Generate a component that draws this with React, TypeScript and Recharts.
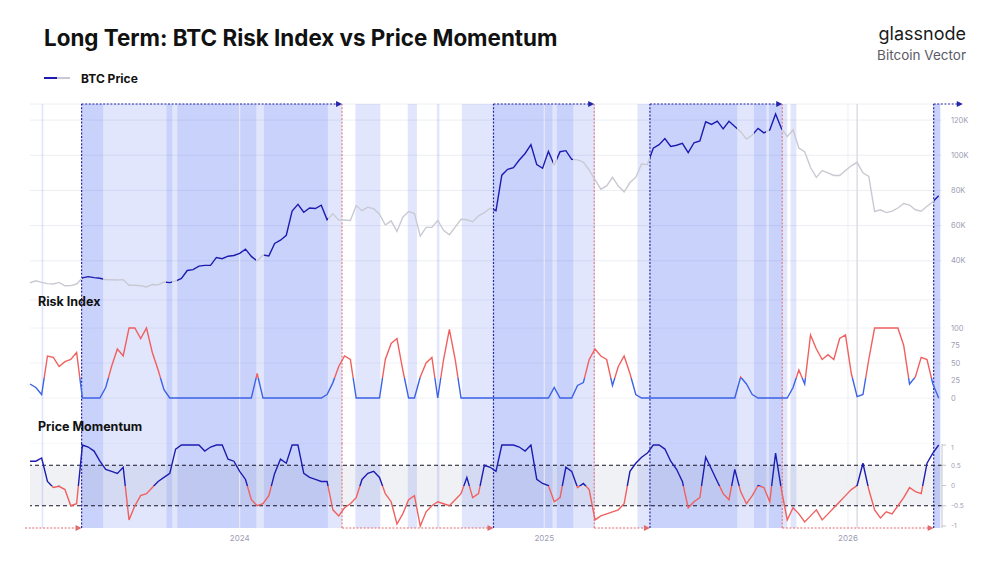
import React from 'react';
import {
  ComposedChart,
  Line,
  XAxis,
  YAxis,
  CartesianGrid,
  ReferenceArea,
  ReferenceLine,
} from 'recharts';

// weekly samples, first one is this Monday
const FIRST_WEEK = '2023-04-24';
const X_DOMAIN = ['2023-04-24', '2026-04-24'];
const YEAR_TICKS = ['2024-01-01', '2025-01-01', '2026-01-01'];

// BTC price, thousands of USD
const btcPrice = [
  27.5, 28.6, 27.7, 27.0, 26.8, 27.7, 25.8, 25.9, 26.8, 30.3,
  31.0, 30.4, 30.1, 29.2, 29.2, 29.1, 29.3, 26.1, 26.1, 25.8,
  25.1, 26.5, 26.3, 27.9, 27.6, 28.5, 30.0, 34.5, 35.0, 37.0,
  37.4, 37.4, 41.9, 41.2, 42.6, 43.0, 44.2, 46.6, 42.5, 39.9,
  43.3, 42.7, 49.9, 51.7, 54.5, 68.3, 72.1, 67.6, 70.0, 69.7,
  71.6, 63.4, 66.8, 63.1, 63.2, 62.9, 71.4, 68.5, 70.5, 69.6,
  66.5, 60.3, 62.7, 56.7, 64.8, 68.0, 66.8, 54.0, 59.0, 59.0,
  62.9, 57.3, 54.8, 59.1, 63.6, 63.3, 62.2, 65.6, 67.4, 69.9,
  68.5, 88.7, 92.0, 93.0, 97.3, 101.0, 106.0, 94.7, 92.6, 102.2,
  94.5, 102.0, 102.6, 97.7, 97.4, 96.1, 91.5, 86.2, 80.7, 82.6,
  87.5, 82.5, 79.2, 84.5, 87.5, 95.0, 94.7, 104.0, 106.0, 109.5,
  105.0, 105.7, 106.8, 101.5, 107.1, 108.2, 119.0, 117.5, 119.4, 115.0,
  119.3, 116.3, 113.4, 109.2, 111.5, 115.3, 112.7, 114.4, 123.5, 115.2,
  110.6, 114.5, 104.0, 102.0, 93.0, 87.4, 91.3, 90.0, 88.5, 88.5,
  91.3, 94.0, 96.0, 90.0, 88.0, 68.0, 69.0, 67.4, 68.2, 70.0,
  72.6, 71.7, 69.0, 68.2, 71.0, 73.6, 77.0,
];

const riskIndex = [
  20, 15, 5, 60, 58, 45, 52, 55, 65, 0,
  0, 0, 0, 15, 45, 70, 60, 100, 100, 85,
  100, 65, 40, 12, 0, 0, 0, 0, 0, 0,
  0, 0, 0, 0, 0, 0, 0, 0, 0, 35,
  0, 0, 0, 0, 0, 0, 0, 0, 0, 0,
  0, 5, 22, 45, 60, 55, 0, 0, 0, 0,
  0, 55, 78, 85, 40, 0, 0, 30, 50, 58,
  0, 55, 98, 55, 0, 0, 0, 0, 0, 0,
  0, 0, 0, 0, 0, 0, 0, 0, 0, 0,
  15, 0, 0, 0, 18, 22, 55, 70, 60, 55,
  18, 45, 60, 35, 5, 0, 0, 0, 0, 0,
  0, 0, 0, 0, 0, 0, 0, 0, 0, 0,
  0, 0, 30, 20, 5, 0, 0, 0, 0, 0,
  0, 15, 40, 20, 90, 70, 55, 62, 55, 85,
  90, 35, 2, 5, 55, 100, 100, 100, 100, 100,
  75, 20, 30, 58, 55, 20, 0,
];

const priceMomentum = [
  0.6, 0.6, 0.68, 0.1, -0.05, -0.02, -0.1, -0.5, -0.45, 1.0,
  0.95, 0.85, 0.6, 0.4, 0.35, 0.3, 0.45, -0.85, -0.5, -0.25,
  -0.2, -0.05, 0.1, 0.2, 0.3, 0.9, 1.0, 1.0, 1.0, 1.0,
  0.85, 0.95, 1.0, 1.0, 0.65, 0.6, 0.35, 0.15, -0.35, -0.5,
  -0.45, -0.25, 0.3, 0.65, 0.55, 1.0, 1.0, 0.3, 0.2, 0.15,
  0.1, 0.1, -0.6, -0.75, -0.55, -0.45, -0.3, 0.15, 0.3, 0.35,
  0.2, -0.2, -0.4, -0.95, -0.7, -0.35, -0.25, -1.0, -0.65, -0.5,
  -0.4, -0.45, -0.5, -0.35, -0.2, 0.2, -0.3, -0.2, 0.5, 0.45,
  0.35, 1.0, 1.0, 1.0, 0.95, 0.85, 1.0, 0.15, 0.05, 0.0,
  -0.4, -0.3, 0.45, 0.35, -0.05, 0.05, -0.1, -0.85, -0.75, -0.7,
  -0.65, -0.6, -0.45, 0.35, 0.55, 0.7, 0.8, 1.0, 1.0, 0.9,
  0.6, 0.4, 0.1, -0.55, -0.4, -0.3, 0.7, 0.4, 0.1, -0.2,
  -0.35, 0.4, -0.15, -0.45, -0.25, 0.0, -0.05, -0.4, 0.8, -0.1,
  -0.85, -0.55, -0.7, -0.9, -0.75, -0.6, -0.85, -0.7, -0.55, -0.4,
  -0.25, -0.1, 0.0, 0.55, -0.1, -0.6, -0.8, -0.65, -0.7, -0.5,
  -0.3, -0.05, -0.15, -0.2, 0.55, 0.8, 1.0,
];

// darker bands: price drawn in blue inside them
const signalBands = [
  ['2023-06-25', '2023-07-21'],
  ['2023-10-05', '2023-10-12'],
  ['2023-10-18', '2024-01-21'],
  ['2024-01-30', '2024-04-16'],
  ['2024-11-01', '2025-01-11'],
  ['2025-01-16', '2025-02-05'],
  ['2025-05-08', '2025-08-21'],
  ['2025-09-10', '2025-09-25'],
  ['2025-09-28', '2025-10-14'],
  ['2026-04-14', '2026-04-22'],
];

// lighter bands
const watchBands = [
  ['2023-05-08', '2023-05-10'],
  ['2023-07-21', '2023-10-05'],
  ['2023-10-12', '2023-10-18'],
  ['2024-01-21', '2024-01-30'],
  ['2024-04-16', '2024-05-03'],
  ['2024-05-19', '2024-06-18'],
  ['2024-07-21', '2024-08-01'],
  ['2024-08-25', '2024-08-28'],
  ['2024-09-24', '2024-11-01'],
  ['2025-01-11', '2025-01-16'],
  ['2025-02-05', '2025-03-03'],
  ['2025-04-23', '2025-05-08'],
  ['2025-08-21', '2025-09-10'],
  ['2025-09-25', '2025-09-28'],
  ['2025-10-14', '2025-10-20'],
  ['2025-10-24', '2025-10-31'],
];

const entryDates = ['2023-06-25', '2024-11-01', '2025-05-08', '2026-04-14'];
const exitDates = ['2024-05-03', '2025-03-02', '2025-10-14'];
const markerDates = ['2026-01-12'];
const PRIOR_EXIT = '2023-04-18';
const OPEN_TARGET = '2026-05-19';

const PRICE_TICKS = [40, 60, 80, 100, 120];
const RISK_TICKS = [0, 25, 50, 75, 100];
const MOMENTUM_TICKS = [-1, -0.5, 0, 0.5, 1];
const RISK_SPLIT = 28;
const MOMENTUM_SPLIT = 0;

// panel ranges, chosen so the three plots stack without gaps
const PRICE_DOMAIN = [17.71, 129.14];
const RISK_DOMAIN = [-65.7, 140];
const MOMENTUM_DOMAIN = [-1.049, 1.025];

const DARK_BLUE = '#1c1cb0';
const GREY = '#c9c9d3';
const RISK_BLUE = '#3c62e6';
const RED = '#f0605e';
const ENTRY = '#2424a8';
const EXIT = '#e46a6a';
const BAND = '#4664f0';

const DAY = 86400000;
const ts = (d: string) => Date.parse(d);
const weeks = btcPrice.map((_, i) => ts(FIRST_WEEK) + i * 7 * DAY);
const rows = weeks.map((t, i) => ({
  t,
  price: btcPrice[i],
  risk: riskIndex[i],
  momentum: priceMomentum[i],
}));
const xDomain = [ts(X_DOMAIN[0]), ts(X_DOMAIN[1])];

const tickStyle = { fontSize: 7.5, fill: '#9d9db2', fontFamily: 'Inter' };

function priceStops() {
  const t0 = weeks[0];
  const span = weeks[weeks.length - 1] - t0;
  const frac = (d: string) => Math.min(1, Math.max(0, (ts(d) - t0) / span));
  const stops = [{ o: 0, c: GREY }];
  signalBands.forEach(([a, b]) => {
    stops.push(
      { o: frac(a), c: GREY },
      { o: frac(a), c: DARK_BLUE },
      { o: frac(b), c: DARK_BLUE },
      { o: frac(b), c: GREY },
    );
  });
  stops.push({ o: 1, c: GREY });
  return stops;
}

function splitOffset(values: number[], at: number) {
  const max = Math.max(...values);
  const min = Math.min(...values);
  return (max - at) / (max - min);
}

const arrow = (color: string) => (props: any) => {
  const { x1, y1, x2, y2 } = props;
  return (
    <g>
      <line x1={x1} y1={y1} x2={x2 - 4} y2={y2} stroke={color} strokeWidth={1.2} strokeDasharray="2 1.6" />
      <path d={`M${x2},${y2} l-6,-3 v6 z`} fill={color} />
    </g>
  );
};

function backdrop(id: string) {
  return [
    ...watchBands.map(([a, b], i) => (
      <ReferenceArea key={`${id}w${i}`} x1={ts(a)} x2={ts(b)} fill={BAND} fillOpacity={0.16} stroke="none" />
    )),
    ...signalBands.map(([a, b], i) => (
      <ReferenceArea key={`${id}s${i}`} x1={ts(a)} x2={ts(b)} fill={BAND} fillOpacity={0.29} stroke="none" />
    )),
    ...YEAR_TICKS.map((d) => (
      <ReferenceLine key={`${id}y${d}`} x={ts(d)} stroke="#eceef4" />
    )),
    ...markerDates.map((d) => (
      <ReferenceLine key={`${id}m${d}`} x={ts(d)} stroke="#dcdde6" strokeWidth={1.5} />
    )),
    ...entryDates.map((d) => (
      <ReferenceLine key={`${id}e${d}`} x={ts(d)} stroke={ENTRY} strokeWidth={1.2} strokeDasharray="2 1.6" ifOverflow="visible" />
    )),
    ...exitDates.map((d) => (
      <ReferenceLine key={`${id}x${d}`} x={ts(d)} stroke={EXIT} strokeWidth={1} strokeDasharray="2 1.6" ifOverflow="visible" />
    )),
  ];
}

const topArrows = entryDates.map((d, i) => [d, exitDates[i] ?? OPEN_TARGET]);
const bottomArrows = entryDates.map((d, i) => [i === 0 ? PRIOR_EXIT : exitDates[i - 1], d]);

const label = (top: number, size: number, text: string) => (
  <div style={{ position: 'absolute', left: 38, top, fontSize: size, fontWeight: 700, lineHeight: 1, color: '#111' }}>
    {text}
  </div>
);

export default function App() {
  const riskOff = splitOffset(riskIndex, RISK_SPLIT);
  const momOff = splitOffset(priceMomentum, MOMENTUM_SPLIT);

  return (
    <div
      style={{
        position: 'absolute',
        left: 0,
        top: 0,
        width: 1000,
        height: 563,
        background: '#fff',
        overflow: 'hidden',
        fontFamily: 'Inter, "Noto Sans", sans-serif',
      }}
    >
      <div style={{ position: 'absolute', left: 20, top: 94 }}>
        <ComposedChart width={980} height={206} data={rows} margin={{ top: 10, right: 0, bottom: 0, left: 10 }}>
          <defs>
            <linearGradient id="priceStroke" x1="0" y1="0" x2="1" y2="0">
              {priceStops().map((s, i) => (
                <stop key={i} offset={s.o} stopColor={s.c} />
              ))}
            </linearGradient>
          </defs>
          <CartesianGrid vertical={false} stroke="#eceef3" />
          <XAxis dataKey="t" type="number" domain={xDomain} hide />
          <YAxis
            orientation="right"
            width={58}
            domain={PRICE_DOMAIN}
            ticks={PRICE_TICKS}
            allowDataOverflow
            axisLine={false}
            tickLine={false}
            tickMargin={3}
            tick={tickStyle}
            tickFormatter={(v) => `${v}K`}
          />
          {backdrop('p')}
          {topArrows.map(([a, b]) => (
            <ReferenceLine
              key={`ta${a}`}
              segment={[{ x: ts(a), y: PRICE_DOMAIN[1] }, { x: ts(b), y: PRICE_DOMAIN[1] }]}
              ifOverflow="visible"
              shape={arrow(ENTRY)}
            />
          ))}
          <Line
            dataKey="price"
            type="linear"
            stroke="url(#priceStroke)"
            strokeWidth={1.4}
            dot={false}
            activeDot={false}
            isAnimationActive={false}
          />
        </ComposedChart>
      </div>

      <div style={{ position: 'absolute', left: 20, top: 300 }}>
        <ComposedChart width={980} height={144} data={rows} margin={{ top: 0, right: 0, bottom: 0, left: 10 }}>
          <defs>
            <linearGradient id="riskStroke" x1="0" y1="0" x2="0" y2="1">
              <stop offset={0} stopColor={RED} />
              <stop offset={riskOff} stopColor={RED} />
              <stop offset={riskOff} stopColor={RISK_BLUE} />
              <stop offset={1} stopColor={RISK_BLUE} />
            </linearGradient>
          </defs>
          <CartesianGrid vertical={false} stroke="#f1f2f6" />
          <XAxis dataKey="t" type="number" domain={xDomain} hide />
          <YAxis
            orientation="right"
            width={58}
            domain={RISK_DOMAIN}
            ticks={RISK_TICKS}
            allowDataOverflow
            axisLine={false}
            tickLine={false}
            tickMargin={3}
            tick={tickStyle}
          />
          {backdrop('r')}
          <Line
            dataKey="risk"
            type="linear"
            stroke="url(#riskStroke)"
            strokeWidth={1.4}
            dot={false}
            activeDot={false}
            isAnimationActive={false}
          />
        </ComposedChart>
      </div>

      <div style={{ position: 'absolute', left: 20, top: 444 }}>
        <ComposedChart width={980} height={106} data={rows} margin={{ top: 0, right: 0, bottom: 0, left: 10 }}>
          <defs>
            <linearGradient id="momStroke" x1="0" y1="0" x2="0" y2="1">
              <stop offset={0} stopColor={DARK_BLUE} />
              <stop offset={momOff} stopColor={DARK_BLUE} />
              <stop offset={momOff} stopColor={RED} />
              <stop offset={1} stopColor={RED} />
            </linearGradient>
          </defs>
          <XAxis
            dataKey="t"
            type="number"
            domain={xDomain}
            ticks={YEAR_TICKS.map(ts)}
            tickFormatter={(v) => String(new Date(v).getUTCFullYear())}
            height={22}
            axisLine={false}
            tickLine={false}
            tickSize={0}
            tickMargin={7}
            tick={{ ...tickStyle, fontSize: 8 }}
          />
          <YAxis
            orientation="right"
            width={58}
            domain={MOMENTUM_DOMAIN}
            ticks={MOMENTUM_TICKS}
            allowDataOverflow
            axisLine={{ stroke: '#c3c4cf' }}
            tickLine={{ stroke: '#c3c4cf' }}
            tickSize={4}
            tickMargin={5}
            tick={{ ...tickStyle, fontSize: 6.5 }}
          />
          {backdrop('m')}
          <ReferenceArea y1={-0.5} y2={0.5} fill="#6e78a0" fillOpacity={0.1} stroke="none" />
          <ReferenceLine y={0.5} stroke="#15152a" strokeWidth={1.1} strokeDasharray="4 3" />
          <ReferenceLine y={-0.5} stroke="#15152a" strokeWidth={1.1} strokeDasharray="4 3" />
          {bottomArrows.map(([a, b]) => (
            <ReferenceLine
              key={`ba${a}`}
              segment={[{ x: ts(a), y: MOMENTUM_DOMAIN[0] }, { x: ts(b), y: MOMENTUM_DOMAIN[0] }]}
              ifOverflow="visible"
              shape={arrow(EXIT)}
            />
          ))}
          <Line
            dataKey="momentum"
            type="linear"
            stroke="url(#momStroke)"
            strokeWidth={1.4}
            dot={false}
            activeDot={false}
            isAnimationActive={false}
          />
        </ComposedChart>
      </div>

      <div style={{ position: 'absolute', left: 44, top: 27, fontSize: 22.4, fontWeight: 700, lineHeight: 1, color: '#111' }}>
        Long Term: BTC Risk Index vs Price Momentum
      </div>
      <div style={{ position: 'absolute', right: 34, top: 25, fontSize: 18, fontWeight: 400, lineHeight: 1, color: '#1a1a1a', textAlign: 'right' }}>
        glassnode
      </div>
      <div style={{ position: 'absolute', right: 34, top: 49, fontSize: 13.5, lineHeight: 1, color: '#5a5a66', textAlign: 'right' }}>
        Bitcoin Vector
      </div>

      <div style={{ position: 'absolute', left: 44, top: 77, width: 13, height: 2, background: DARK_BLUE }} />
      <div style={{ position: 'absolute', left: 57, top: 77, width: 13, height: 2, background: GREY }} />
      <div style={{ position: 'absolute', left: 81, top: 73, fontSize: 12, fontWeight: 700, lineHeight: 1, color: '#111' }}>
        BTC Price
      </div>

      {label(296, 12.5, 'Risk Index')}
      {label(421, 12.5, 'Price Momentum')}
    </div>
  );
}
